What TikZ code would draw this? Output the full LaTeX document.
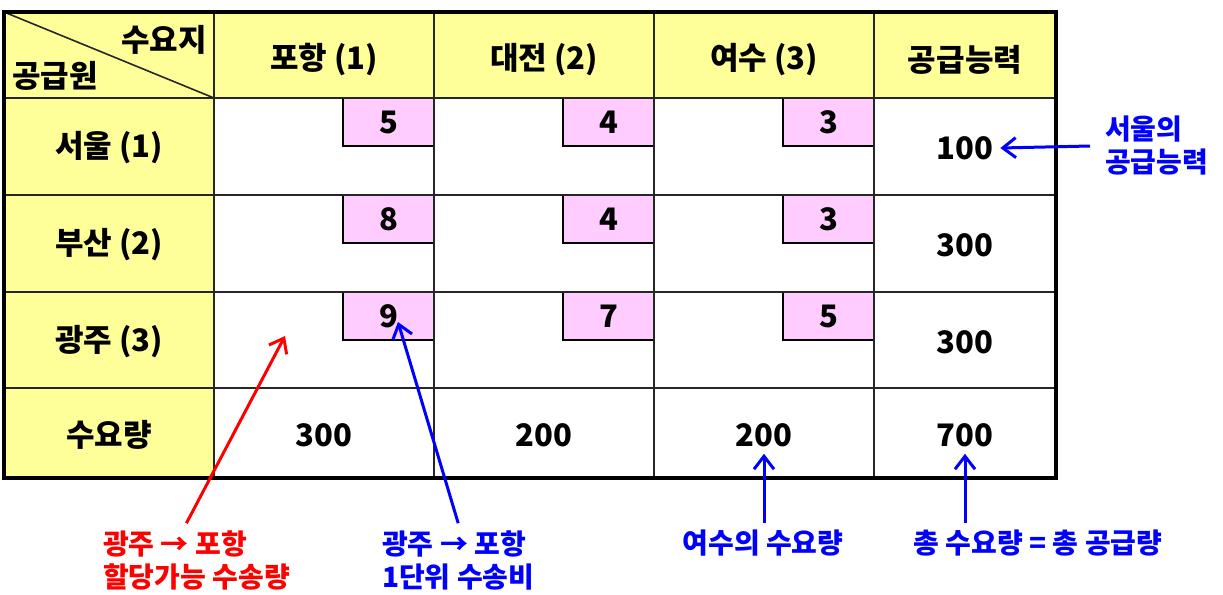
\documentclass[tikz,border=0pt]{standalone}
\usepackage{fontspec}
\setmainfont{Noto Sans CJK KR}
\usetikzlibrary{arrows.meta}
\definecolor{hdryellow}{HTML}{FFFF99}
\definecolor{costpink}{HTML}{FFCCFF}
\definecolor{notered}{HTML}{FF0000}
\definecolor{noteblue}{HTML}{0000FF}
\tikzset{
  cell/.style={font=\bfseries\fontsize{15.5}{18}\selectfont},
  costbox/.style={cell, draw, fill=costpink, line width=0.6pt, inner sep=0pt,
    minimum width=45.5pt, minimum height=24pt},
  gridline/.style={draw=black!85, line width=0.8pt},
  note/.style={font=\bfseries\fontsize{14}{16.5}\selectfont, align=left},
  pointer/.style={line width=1.5pt, -{Straight Barb[length=6.5pt,width=10pt]}}
}
\begin{document}
\begin{tikzpicture}[x=0.5pt,y=-0.5pt]
      \useasboundingbox (0,0) rectangle (1223,595);
      \fill[hdryellow] (4,12) rectangle (1056,98);
      \fill[hdryellow] (4,98) rectangle (214,478);
      \draw
        (388.5,122) node[costbox] (c11){5}
        (608.5,122) node[costbox] (c12){4}
        (828.5,122) node[costbox] (c13){3}
        (388.5,219) node[costbox] (c21){8}
        (608.5,219) node[costbox] (c22){4}
        (828.5,219) node[costbox] (c23){3}
        (388.5,316) node[costbox] (c31){9}
        (608.5,316) node[costbox] (c32){7}
        (828.5,316) node[costbox] (c33){5};
      \begin{scope}[gridline]
        \draw (214,12) -- (214,478);
        \draw (434,12) -- (434,478);
        \draw (654,12) -- (654,478);
        \draw (874,12) -- (874,478);
        \draw (4,98) -- (1056,98);
        \draw (4,195) -- (1056,195);
        \draw (4,292) -- (1056,292);
        \draw (4,388) -- (1056,388);
        \draw (4,12) -- (214,98);
      \end{scope}
      \draw[line width=1.8pt] (4,12) rectangle (1056,478);
      \draw
        (214,40) node[cell, anchor=east] (demandhdr){수요지}
        (5,76) node[cell, anchor=west] (supplyhdr){공급원}
        (324,60) node[cell] (h1){포항 (1)}
        (544,60) node[cell] (h2){대전 (2)}
        (764,60) node[cell] (h3){여수 (3)}
        (965,60) node[cell] (h4){공급능력}
        (109,148) node[cell] (s1){서울 (1)}
        (109,245) node[cell] (s2){부산 (2)}
        (109,342) node[cell] (s3){광주 (3)}
        (109,435) node[cell] (dem){수요량}
        (965,148) node[cell] (a1){100}
        (965,245) node[cell] (a2){300}
        (965,342) node[cell] (a3){300}
        (324,435) node[cell] (d1){300}
        (544,435) node[cell] (d2){200}
        (764,435) node[cell] (d3){200}
        (965,435) node[cell] (d4){700};
      \coordinate (alloc31) at (285,336);
      \coordinate (cost31) at (398,322);
      \draw
        (96,560) node[note, text=notered, anchor=west] (notealloc){광주 → 포항\\할당가능 수송량}
        (375,560) node[note, text=noteblue, anchor=west] (notecost){광주 → 포항\\1단위 수송비}
        (763,543) node[note, text=noteblue] (notedemand){여수의 수요량}
        (1038,543) node[note, text=noteblue] (notetotal){총 수요량 = 총 공급량}
        (1098,146) node[note, text=noteblue, anchor=west] (notesupply){서울의\\공급능력};
      \begin{scope}[pointer]
        \draw[notered] ([xshift=-5pt]notealloc.north) to (alloc31);
        \draw[noteblue] (notecost.north) to (cost31);
        \draw[noteblue] (d3.south |- notedemand.north) to (d3.south);
        \draw[noteblue] (d4.south |- notetotal.north) to (d4.south);
        \draw[noteblue] ([xshift=-4pt]notesupply.west) to (a1.east);
      \end{scope}
    \end{tikzpicture}
\end{document}
